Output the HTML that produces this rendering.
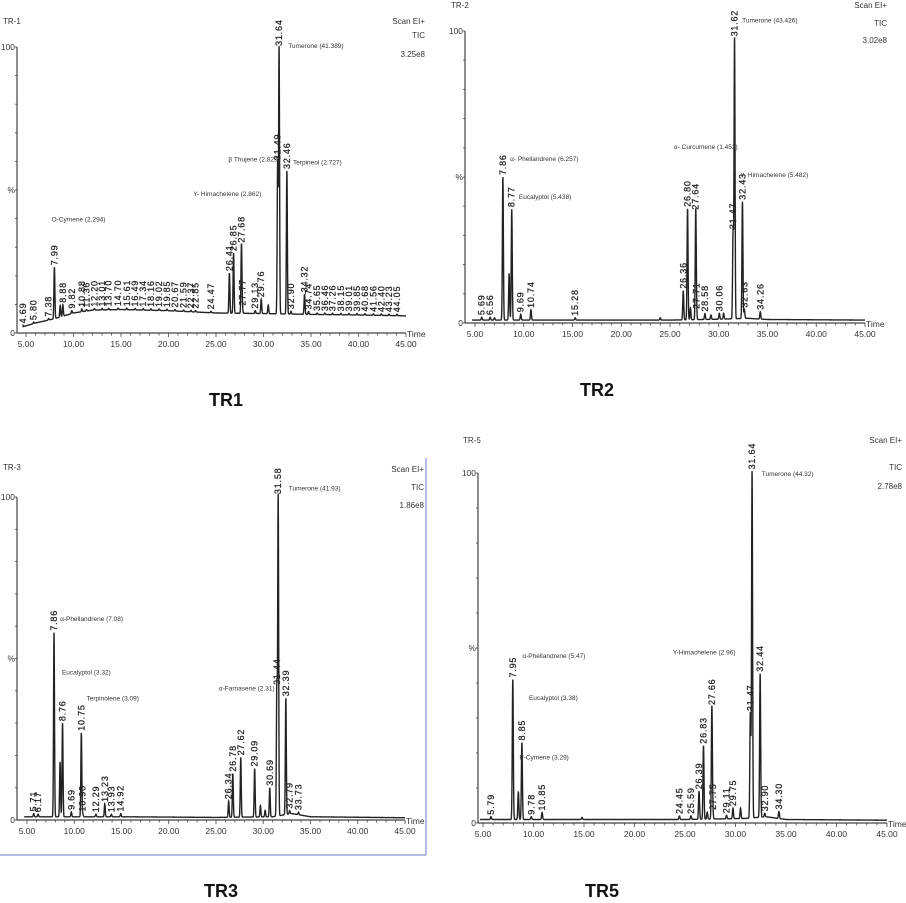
<!DOCTYPE html>
<html><head><meta charset="utf-8"><style>
html,body{margin:0;padding:0;background:#fff;}
svg{display:block;font-family:"Liberation Sans",sans-serif;}
.pk{font-size:9px;fill:#222;letter-spacing:0.8px;stroke:#222;stroke-width:0.25}
.an{font-size:6.5px;fill:#333}
.hd{font-size:8px;fill:#333}
.tk{font-size:8.5px;fill:#333}
.ttl{font-size:18px;font-weight:bold;fill:#111}
</style></head><body>
<svg id="root" width="906" height="903" viewBox="0 0 906 903">
<line x1="0" y1="855" x2="426" y2="855" stroke="#6a7fd0" stroke-width="1"/>
<line x1="426" y1="458" x2="426" y2="855" stroke="#6a7fd0" stroke-width="1"/>
<text class="ttl" x="209" y="406">TR1</text>
<text class="ttl" x="580" y="396">TR2</text>
<text class="ttl" x="204" y="897">TR3</text>
<text class="ttl" x="585" y="897">TR5</text>
</svg>
<script>
// ---------- TR1 data ----------
const tr1Times=[4.69,5.80,7.38,7.99,8.60,8.88,9.82,10.88,11.36,12.20,13.01,13.70,14.70,15.61,16.49,17.34,18.16,19.02,19.85,20.67,21.59,22.37,22.85,24.47,26.41,26.85,27.68,27.77,29.13,29.76,30.5,31.49,31.64,32.46,32.90,34.32,34.74,35.65,36.46,37.26,38.15,39.01,39.85,40.68,41.56,42.40,43.23,44.05];
const tr1Heights=[0.5,0.5,0.5,18,4,4,1,1,0.5,0.5,0.5,0.5,0.5,0.5,0.5,0.5,0.5,0.5,0.5,0.5,0.5,0.5,0.5,0.5,14,21,24,2,1,5,3,53,93,50,1,7,1,0.5,0.5,0.5,0.5,0.5,0.5,0.5,0.5,0.5,0.5,0.5];
const tr1Labels=["4.69","5.80","7.38","7.99","","8.88","9.82","10.88","11.36","12.20","13.01","13.70","14.70","15.61","16.49","17.34","18.16","19.02","19.85","20.67","21.59","22.37","22.85","24.47","26.41","26.85","27.68","27.77","29.13","29.76","","31.49","31.64","32.46","32.90","34.32","34.74","35.65","36.46","37.26","38.15","39.01","39.85","40.68","41.56","42.40","43.23","44.05"];
const tr1BaseT=[4.5,6,8,10,12,15,20,25,30,35,40,45];
const tr1BaseV=[2,3.5,5,7,8,8.2,7.8,7,6.8,6.5,6.3,6];
const tr1AnnText=["O-Cymene (2.294)","Y- Himachelene (2.862)","\u03B2 Thujene (2.829)","Terpineol (2.727)","Tumerone (41.389)"];
const tr1AnnT=[7.7,22.6,26.3,33.1,32.6];
const tr1AnnV=[40,49,61,60,100.7];
// ---------- TR2 data ----------
const tr2Times=[5.69,6.56,7.0,7.86,8.50,8.77,9.69,10.74,15.28,24.0,26.36,26.80,27.10,27.64,27.71,28.58,29.2,30.06,30.5,31.47,31.62,32.43,32.63,34.26];
const tr2Heights=[1,1,0.8,49,16,38,2,3.5,0.8,0.8,10,38,4,37,3,2,1.5,2,2,30,96,40,3,2.5];
const tr2Labels=["5.69","6.56","","7.86","","8.77","9.69","10.74","15.28","","26.36","26.80","","27.64","27.71","28.58","","30.06","","31.47","31.62","32.43","32.63","34.26"];
const tr2BaseT=[4.5,15,25,30,33,35,45];
const tr2BaseV=[1,1,1,1.3,1.6,1.2,1];
const tr2AnnText=["\u03B1- Phellandrene (6.257)","Eucalyptol (5.438)","\u03B1- Curcumene (1.452)","Y- Himachelene (5.482)","Tumerone (43.426)"];
const tr2AnnT=[8.6,9.5,25.4,32.2,32.4];
const tr2AnnV=[56.5,43.5,60.6,51,104];
// ---------- TR3 data ----------
const tr3Times=[5.71,6.17,7.86,8.50,8.76,9.69,10.75,10.90,12.29,13.23,13.93,14.92,26.34,26.78,27.62,29.09,29.7,30.2,30.69,31.44,31.58,32.39,32.79,33.73];
const tr3Heights=[1,0.8,57,17,29,1.5,26,1,0.8,4,0.8,1,5,13.5,18.5,15,3.5,2,9,40,99,36,1,0.8];
const tr3Labels=["5.71","6.17","7.86","","8.76","9.69","10.75","10.90","12.29","13.23","13.93","14.92","26.34","26.78","27.62","29.09","","","30.69","31.44","31.58","32.39","32.79","33.73"];
const tr3BaseT=[4.5,15,25,31,33,35,45];
const tr3BaseV=[1,1,0.8,1,2,1,0.7];
const tr3AnnText=["\u03B1-Phellandrene (7.08)","Eucalyptol (3.32)","Terpinolene (3.09)","\u03B1-Farnasene (2.31)","Tumerone (41.93)"];
const tr3AnnT=[8.5,8.7,11.3,25.3,32.7];
const tr3AnnV=[62.5,46,38,41,103];
// ---------- TR5 data ----------
const tr5Times=[5.79,7.95,8.50,8.85,9.78,10.85,14.8,24.45,25.59,26.39,26.83,27.2,27.66,27.75,29.11,29.75,30.5,31.47,31.64,32.44,32.90,34.30];
const tr5Heights=[0.8,40,8,22,0.8,2,0.6,1,1,8,21,2,32,2,1,3,3,30,99,41,1,2];
const tr5Labels=["5.79","7.95","","8.85","9.78","10.85","","24.45","25.59","26.39","26.83","","27.66","27.75","29.11","29.75","","31.47","31.64","32.44","32.90","34.30"];
const tr5BaseT=[4.5,15,25,31,33,35,45];
const tr5BaseV=[1,1,1,1.3,1.8,1,0.8];
const tr5AnnText=["\u03B1-Phellandrene (5.47)","Eucalyptol (3.38)","P-Cymene (3.29)","Y-Himachelene (2.96)","Tumerone (44.32)"];
const tr5AnnT=[8.9,9.55,8.6,23.8,32.6];
const tr5AnnV=[48,36,19,49,100];

const NS="http://www.w3.org/2000/svg";
const root=document.getElementById('root');
function mk(tag,attrs,parent){const e=document.createElementNS(NS,tag);for(const k in attrs)e.setAttribute(k,attrs[k]);parent.appendChild(e);return e;}

function panel(cfg){
  const g=mk('g',{},root);
  
  
  const X=t=>cfg.x0+(t-5)*(cfg.x45-cfg.x0)/40;
  const Y=v=>cfg.y0-v*(cfg.y0-cfg.y100)/100;
  const base=t=>{const T=cfg.bt,V=cfg.bv;if(t<=T[0])return V[0];for(let i=1;i<T.length;i++){if(t<=T[i]){const f=(t-T[i-1])/(T[i]-T[i-1]);return V[i-1]+f*(V[i]-V[i-1]);}}return V[V.length-1];};
  const sig=0.05;
  const ya=mk('line',{x1:cfg.ax,y1:cfg.y100,x2:cfg.ax,y2:cfg.y0,stroke:'#444','stroke-width':1.2},g);
  
  
  for(let v=0;v<=100;v+=10){mk('line',{x1:cfg.ax-2,y1:Y(v),x2:cfg.ax,y2:Y(v),stroke:'#444','stroke-width':0.8},g);}
  const xa=mk('line',{x1:cfg.ax,y1:cfg.y0,x2:X(45),y2:cfg.y0,stroke:'#444','stroke-width':1.2},g);
  
  
  for(let t=5;t<=45;t++){const big=(t%5===0);mk('line',{x1:X(t),y1:cfg.y0,x2:X(t),y2:cfg.y0+(big?4:2.5),stroke:'#444','stroke-width':0.8},g);
    if(big){const tl=mk('text',{x:X(t),y:cfg.y0+14,'text-anchor':'middle',class:'tk'},g);tl.textContent=t.toFixed(2);
      
      }}
  const yl=[['100',100],['%',50],['0',0]];
  yl.forEach(p=>{const tx=mk('text',{x:cfg.ax-2,y:Y(p[1])+3,'text-anchor':'end',class:'tk'},g);tx.textContent=p[0];
    
    });
  const tm=mk('text',{x:X(45)+1,y:cfg.y0+4,class:'tk'},g);tm.textContent='Time';
  
  
  cfg.hdr.forEach(h=>{const tx=mk('text',{x:h[1],y:h[2],class:'hd','text-anchor':h[3]||'start'},g);tx.textContent=h[0];
    
    });
  const pts=[];
  for(let t=4.5;t<=45.0001;t+=0.01){let v=base(t);for(let i=0;i<cfg.times.length;i++){const d=(t-cfg.times[i])/sig;if(Math.abs(d)<6)v+=cfg.hts[i]*Math.exp(-d*d/2);}pts.push(X(Math.max(t,4.7)).toFixed(2)+','+Y(v).toFixed(2));}
  const tr=mk('polyline',{points:pts.join(' '),fill:'none',stroke:'#222','stroke-width':1.4},g);
  
  
  for(let i=0;i<cfg.times.length;i++){if(!cfg.labels[i])continue;
    const px=X(cfg.times[i])+3, py=Y(base(cfg.times[i])+cfg.hts[i])-2;
    const tx=mk('text',{x:px,y:py,class:'pk',transform:'rotate(-90 '+px+' '+py+')'},g);tx.textContent=cfg.labels[i];
    
    }
  for(let i=0;i<cfg.annT.length;i++){const tx=mk('text',{x:X(cfg.annT[i]),y:Y(cfg.annV[i])+3,class:'an'},g);tx.textContent=cfg.annText[i];
    
    }
}
panel({id:'tr1',ax:17,x0:26,x45:406,y0:333,y100:47,times:tr1Times,hts:tr1Heights,labels:tr1Labels,bt:tr1BaseT,bv:tr1BaseV,annText:tr1AnnText,annT:tr1AnnT,annV:tr1AnnV,
  hdr:[['TR-1',3,24],['Scan EI+',425,24,'end'],['TIC',425,38,'end'],['3.25e8',425,57,'end']]});
panel({id:'tr2',ax:465,x0:475,x45:865,y0:323,y100:31,times:tr2Times,hts:tr2Heights,labels:tr2Labels,bt:tr2BaseT,bv:tr2BaseV,annText:tr2AnnText,annT:tr2AnnT,annV:tr2AnnV,
  hdr:[['TR-2',451,8],['Scan EI+',887,8,'end'],['TIC',887,26,'end'],['3.02e8',887,43,'end']]});
panel({id:'tr3',ax:17,x0:27,x45:405,y0:820,y100:497,times:tr3Times,hts:tr3Heights,labels:tr3Labels,bt:tr3BaseT,bv:tr3BaseV,annText:tr3AnnText,annT:tr3AnnT,annV:tr3AnnV,
  hdr:[['TR-3',3,470],['Scan EI+',424,472,'end'],['TIC',424,490,'end'],['1.86e8',424,508,'end']]});
panel({id:'tr5',ax:478,x0:483,x45:887,y0:823,y100:473,times:tr5Times,hts:tr5Heights,labels:tr5Labels,bt:tr5BaseT,bv:tr5BaseV,annText:tr5AnnText,annT:tr5AnnT,annV:tr5AnnV,
  hdr:[['TR-5',463,443],['Scan EI+',902,443,'end'],['TIC',902,470,'end'],['2.78e8',902,489,'end']]});
</script>
</body></html>
